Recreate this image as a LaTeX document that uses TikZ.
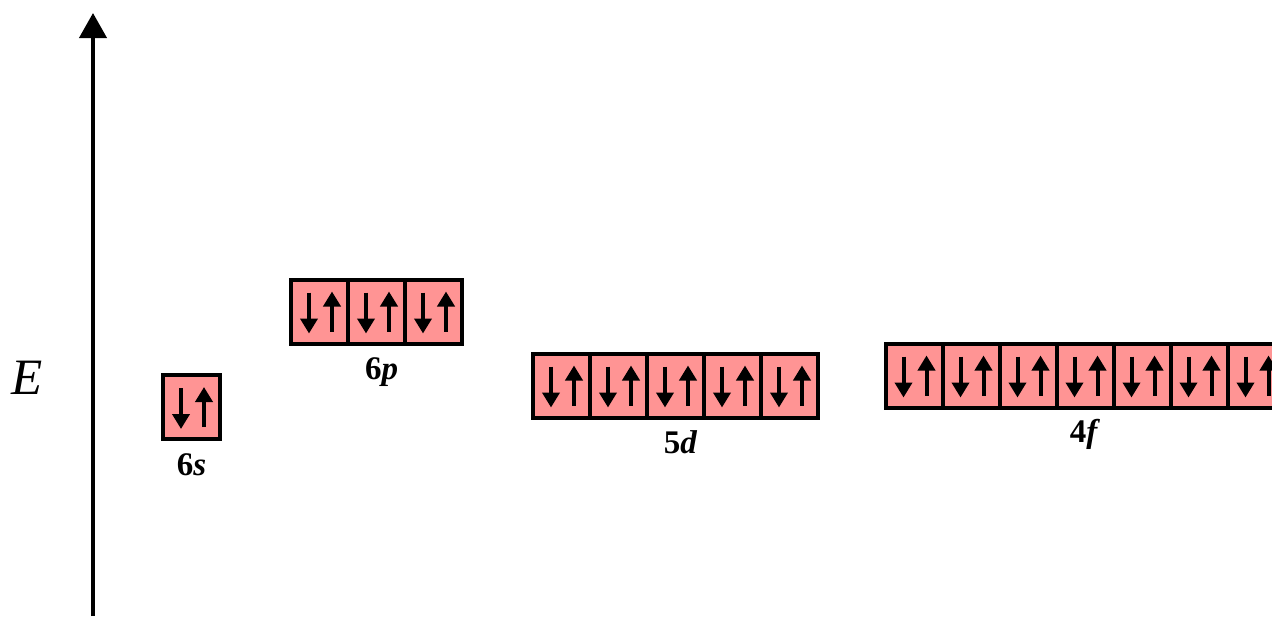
\documentclass[tikz,border=0pt]{standalone}
\usepackage{fontspec}
\setmainfont{Liberation Serif}
\usetikzlibrary{calc, positioning, arrows.meta}
\definecolor{orbfill}{RGB}{255,148,148}

\begin{document}
\begin{tikzpicture}[
    x=1pt, y=-1pt,
    orb/.style={draw, rectangle, line width=4pt, fill=orbfill, minimum width=57pt, minimum height=64pt, inner sep=0pt, outer sep=0pt},
    spin/.style={-{Triangle[length=15pt, width=17pt]}, line width=4pt},
    lbl/.style={font=\fontsize{33}{38}\selectfont\bfseries, inner sep=0pt},
    axis/.style={-{Triangle[length=25pt, width=27pt]}, line width=4pt}
]
\useasboundingbox (0,0) rectangle (1272,616);

% energy axis
\coordinate (base) at (93,616);
\coordinate (top) at (93,13);
\draw[axis] (base) -- (top);
\node[font=\fontsize{51}{60}\selectfont\itshape, inner sep=0pt] (E) at (27,378) {E};

% 6s
\node[orb, anchor=north west] (s1) at (163,375) {};

% 6p
\node[orb, anchor=north west] (p1) at (291,279.5) {};
\foreach \i [count=\j from 2] in {1,2}
    \node[orb, right=0pt of p\i] (p\j) {};

% 5d
\node[orb, anchor=north west] (d1) at (533,353.5) {};
\foreach \i [count=\j from 2] in {1,...,4}
    \node[orb, right=0pt of d\i] (d\j) {};

% 4f
\node[orb, anchor=north west] (f1) at (885.5,343.5) {};
\foreach \i [count=\j from 2] in {1,...,6}
    \node[orb, right=0pt of f\i] (f\j) {};

% electron pairs
\foreach \b in {s1,p1,p2,p3,d1,d2,d3,d4,d5,f1,f2,f3,f4,f5,f6,f7} {
    \draw[spin] ($(\b.north west)+(18,13)$) -- ++(0,41);
    \draw[spin] ($(\b.north west)+(41,52)$) -- ++(0,-40);
}

% labels
\node[lbl, below=14pt of s1] (l6s) {6\textit{s}};
\node[lbl, below=14pt of p2, xshift=5pt] (l6p) {6\textit{p}};
\node[lbl, below=13pt of d3, xshift=5pt] (l5d) {5\textit{d}};
\node[lbl, below=12pt of f4] (l4f) {4\textit{f}};
\end{tikzpicture}
\end{document}
